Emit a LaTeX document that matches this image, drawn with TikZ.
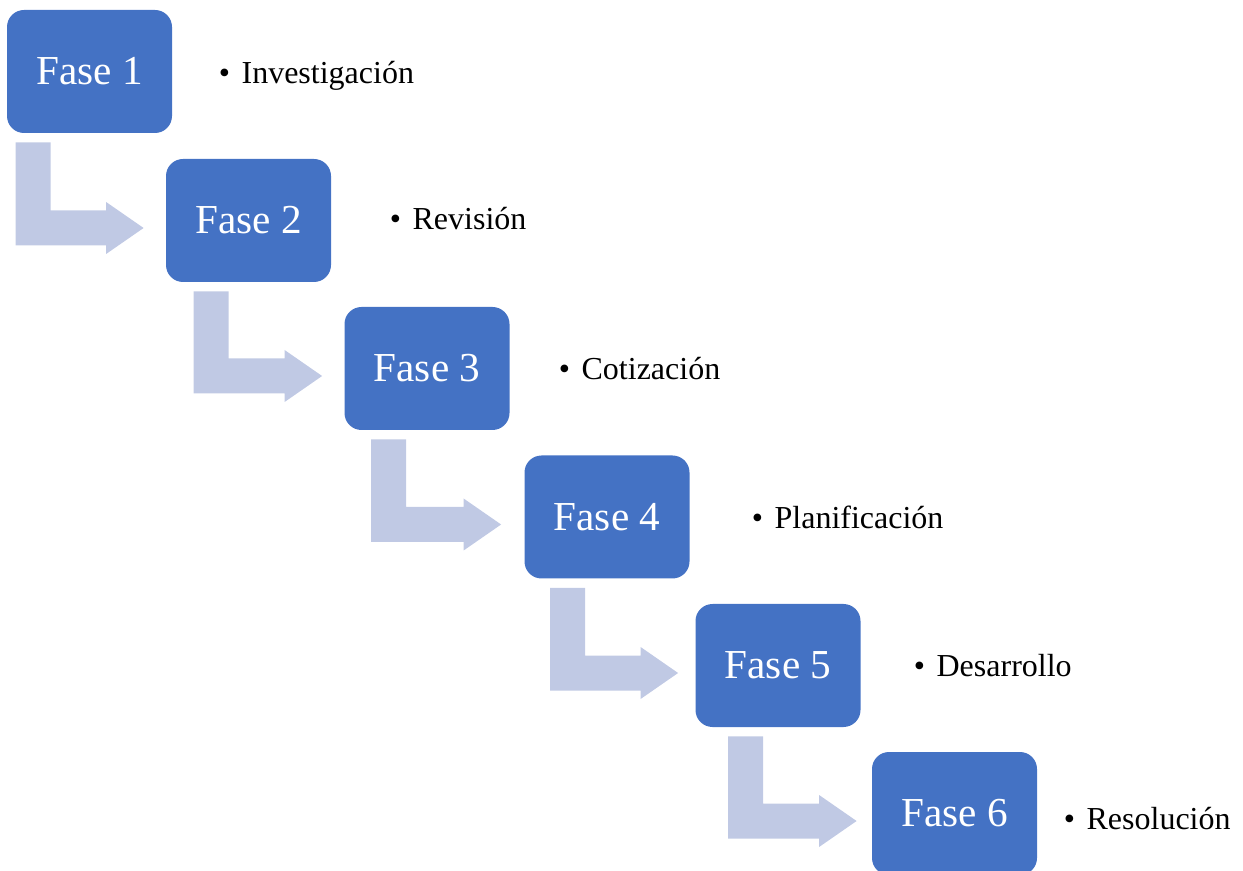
\documentclass[tikz,border=0pt]{standalone}
\usepackage{fontspec}
\setmainfont{Liberation Serif}
\usepackage{xcolor}
\usepackage{tikz}
\definecolor{faseblue}{RGB}{68, 114, 196}
\definecolor{flechablue}{RGB}{192, 201, 228}
\usetikzlibrary{positioning, calc}

% bent arrow from the bottom of one phase to the left side of the next
% #1 from, #2 to, #3 shift of the shaft, #4 gap before the target
\newcommand{\phasearrow}[4]{%
  \fill[flecha] let \p1=(#1.south west), \p2=(#2.west) in
    (\x1+#3, \y1-4.5pt) -- (\x1+#3+17.5pt, \y1-4.5pt) -- (\x1+#3+17.5pt, \y2+5pt)
    -- (\x2-#4-18.75pt, \y2+5pt) -- (\x2-#4-18.75pt, \y2+9.25pt) -- (\x2-#4, \y2-3.75pt)
    -- (\x2-#4-18.75pt, \y2-16.75pt) -- (\x2-#4-18.75pt, \y2-12.5pt) -- (\x1+#3, \y2-12.5pt) -- cycle;}

\begin{document}
\begin{tikzpicture}[
    x=0.5pt, y=-0.5pt,
    fase/.style={rectangle, rounded corners=8.5pt, fill=faseblue, minimum width=82.5pt, minimum height=61.5pt, text=white, font=\fontsize{20.6}{24}\selectfont},
    item/.style={anchor=base west, inner sep=0pt, font=\fontsize{16}{19}\selectfont},
    flecha/.style={fill=flechablue}
]
    \useasboundingbox (0,0) rectangle (1243,871);

    % Phases
    \node[fase] (f1) at (89.5, 71.5) {Fase 1};
    \node[fase] (f2) at (248.5, 220.5) {Fase 2};
    \node[fase] (f3) at (427, 368.5) {Fase 3};
    \node[fase] (f4) at (607, 517) {Fase 4};
    \node[fase] (f5) at (778, 665.5) {Fase 5};
    \node[fase] (f6) at (954.5, 813.5) {Fase 6};

    % Bullets on right
    \node[item] (t1) at (218.5, 83.3) {•\hspace{0.36em}Investigación};
    \node[item] (t2) at (389.5, 230) {•\hspace{0.36em}Revisión};
    \node[item] (t3) at (558.5, 380) {•\hspace{0.36em}Cotización};
    \node[item] (t4) at (751.5, 528.3) {•\hspace{0.36em}Planificación};
    \node[item] (t5) at (913.5, 676.7) {•\hspace{0.36em}Desarrollo};
    \node[item] (t6) at (1063.5, 829.3) {•\hspace{0.36em}Resolución};

    % Arrows
    \phasearrow{f1}{f2}{4.5pt}{11pt}
    \phasearrow{f2}{f3}{14pt}{11pt}
    \phasearrow{f3}{f4}{13.5pt}{11.5pt}
    \phasearrow{f4}{f5}{13pt}{8.5pt}
    \phasearrow{f5}{f6}{16.5pt}{7.5pt}
\end{tikzpicture}
\end{document}
